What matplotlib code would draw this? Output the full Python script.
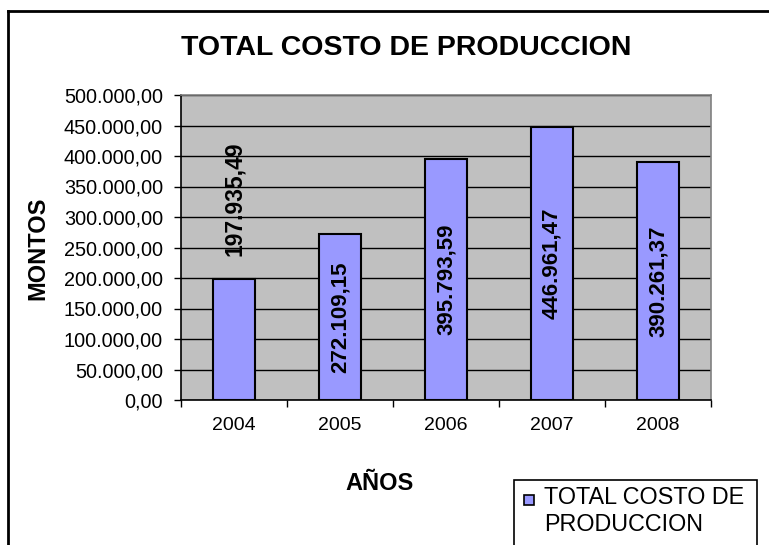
import matplotlib
matplotlib.use("Agg")
import matplotlib.pyplot as plt
from matplotlib.patches import Rectangle
from matplotlib.lines import Line2D
from matplotlib.ticker import FuncFormatter, FixedLocator, MultipleLocator

plt.rcParams['font.family'] = ['Liberation Sans', 'DejaVu Sans']

# ---- data ----
years = ["2004", "2005", "2006", "2007", "2008"]
costs = [197935.49, 272109.15, 395793.59, 446961.47, 390261.37]
title = "TOTAL COSTO DE PRODUCCION"
y_label = "MONTOS"
x_label = "AÑOS"
series_name = "TOTAL COSTO DE\nPRODUCCION"


def es_fmt(v, pos=None):
    s = f"{v:,.2f}"
    return s.replace(",", "X").replace(".", ",").replace("X", ".")


W, H = 769, 545
fig = plt.figure(figsize=(W / 100, H / 100), dpi=100)
fig.patch.set_facecolor("white")

ax = fig.add_axes([181 / W, 1 - 400 / H, (711 - 181) / W, (400 - 95) / H])
ax.set_facecolor("#C0C0C0")

x = list(range(len(years)))
ax.bar(x, costs, width=0.4, color="#9999FF", edgecolor="black", linewidth=1.5, zorder=3)

ax.set_xlim(-0.5, len(years) - 0.5)
ax.set_ylim(0, 500000)
ax.yaxis.set_major_locator(MultipleLocator(50000))
ax.yaxis.set_major_formatter(FuncFormatter(es_fmt))
ax.grid(axis="y", color="black", linewidth=1, zorder=1)
ax.set_axisbelow(True)

# category boundaries ticks, labels at centers
ax.xaxis.set_major_locator(FixedLocator([i - 0.5 for i in range(len(years) + 1)]))
ax.xaxis.set_minor_locator(FixedLocator(x))
ax.set_xticklabels([""] * (len(years) + 1))
ax.set_xticklabels(years, minor=True)
ax.tick_params(axis="x", which="major", direction="out", length=5, width=1, color="black")
ax.tick_params(axis="x", which="minor", length=0, pad=12, labelsize=14)
ax.tick_params(axis="y", direction="out", length=5, width=1, color="black", pad=8, labelsize=14.3)

for side in ("top", "right"):
    ax.spines[side].set_color("#808080")
    ax.spines[side].set_linewidth(1.2)
for side in ("left", "bottom"):
    ax.spines[side].set_color("black")
    ax.spines[side].set_linewidth(1.2)

# data labels
for xi, v in zip(x, costs):
    if v > 250000:
        ax.text(xi, v / 2, es_fmt(v), rotation=90, ha="center", va="center",
                fontsize=16, fontweight="bold", color="black", zorder=4)
    else:
        ax.annotate(es_fmt(v), (xi, v), xytext=(0, 17), textcoords="offset points",
                    rotation=90, ha="center", va="bottom",
                    fontsize=16.5, fontweight="bold", color="black", zorder=4)

# titles
fig.text(406 / W, 1 - 48 / H, title, ha="center", va="center", fontsize=20.5, fontweight="bold")
fig.text(38 / W, 1 - 248 / H, y_label, rotation=90, ha="center", va="center",
         fontsize=17, fontweight="bold")
fig.text(380 / W, 1 - 483 / H, x_label, ha="center", va="center", fontsize=17, fontweight="bold")

# outer chart frame (left and top only visible)
fig.add_artist(Line2D([8 / W, 8 / W], [0, 1 - 11 / H], transform=fig.transFigure,
                      color="black", linewidth=2))
fig.add_artist(Line2D([8 / W, 1], [1 - 11 / H, 1 - 11 / H], transform=fig.transFigure,
                      color="black", linewidth=2))

# legend box (manual, Excel style)
fig.add_artist(Rectangle((514 / W, -0.01), (757 - 514) / W, (1 - 480 / H) + 0.01,
                         transform=fig.transFigure, facecolor="white",
                         edgecolor="black", linewidth=1.2))
fig.add_artist(Rectangle((524 / W, 1 - 505 / H), 10 / W, 10 / H,
                         transform=fig.transFigure, facecolor="#9999FF",
                         edgecolor="black", linewidth=1.2))
fig.text(544 / W, 1 - 486 / H, series_name, ha="left", va="top", fontsize=16.8,
         linespacing=1.22, transform=fig.transFigure)

fig.savefig("out.png", dpi=100)
